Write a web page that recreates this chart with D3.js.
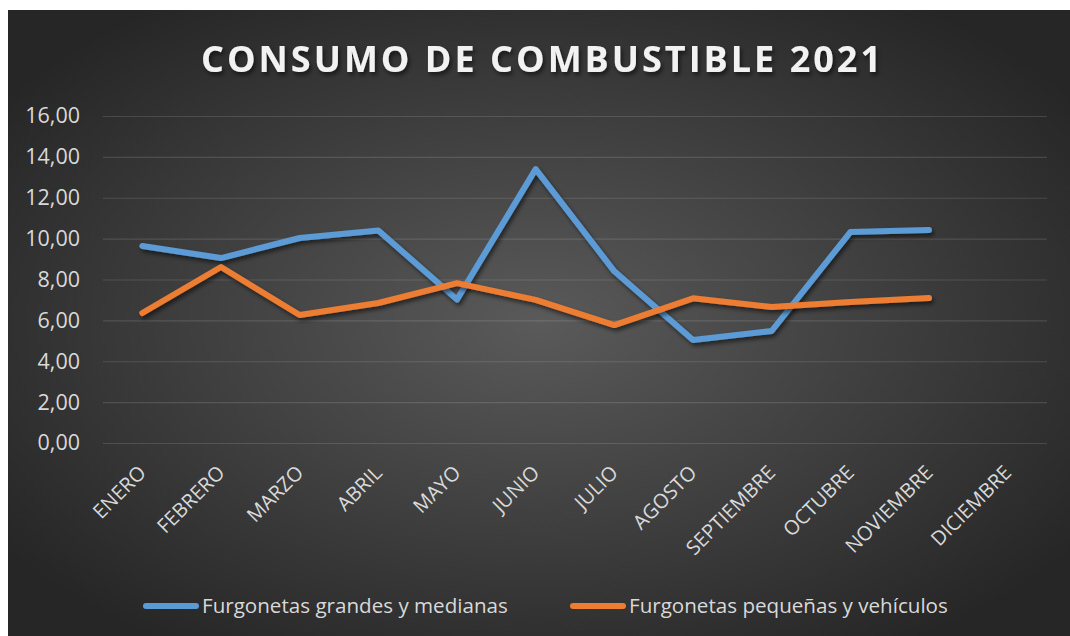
<!DOCTYPE html>
<html>
<head>
<meta charset="utf-8">
<script src="https://cdn.jsdelivr.net/npm/d3@7"></script>
<style>
	body { margin: 0; background: #fff; }
	svg { display: block; }
</style>
</head>
<body>
<div id="chart"></div>
<script>
// chart data
var months = ['ENERO', 'FEBRERO', 'MARZO', 'ABRIL', 'MAYO', 'JUNIO', 'JULIO',
	'AGOSTO', 'SEPTIEMBRE', 'OCTUBRE', 'NOVIEMBRE', 'DICIEMBRE'];

var grandes = [9.64, 9.05, 10.03, 10.40, 7.02, 13.40, 8.40, 5.04, 5.48, 10.32, 10.42, null];
var pequenas = [6.36, 8.61, 6.26, 6.85, 7.82, 7.00, 5.77, 7.08, 6.65, 6.90, 7.09, null];

var yTicks = [0, 2, 4, 6, 8, 10, 12, 14, 16];

var seriesNames = ['Furgonetas grandes y medianas', 'Furgonetas pequeñas y vehículos'];
var seriesColors = ['#5b9bd5', '#ed7d31'];

var W = 1070, H = 636;
var font = "'Open Sans', sans-serif";

var svg = d3.select('#chart').append('svg')
	.attr('width', W)
	.attr('height', H);

var defs = svg.append('defs');

var grad = defs.append('radialGradient')
	.attr('id', 'bg')
	.attr('cx', '50%').attr('cy', '50%').attr('r', '62%');
grad.append('stop').attr('offset', '0%').attr('stop-color', '#5a5a5a');
grad.append('stop').attr('offset', '100%').attr('stop-color', '#262626');

var shadow = defs.append('filter')
	.attr('id', 'shadow')
	.attr('x', '-10%').attr('y', '-10%').attr('width', '120%').attr('height', '130%');
shadow.append('feDropShadow')
	.attr('dx', 2).attr('dy', 3).attr('stdDeviation', 2)
	.attr('flood-color', '#000').attr('flood-opacity', 0.55);

// background
svg.append('rect')
	.attr('x', 8).attr('y', 10)
	.attr('width', W - 8).attr('height', H - 10)
	.attr('fill', 'url(#bg)');

// title, letter spacing stretched to the reference width
var title = svg.append('text')
	.attr('x', 541).attr('y', 72)
	.attr('text-anchor', 'middle')
	.attr('font-family', font)
	.attr('font-weight', 'bold')
	.attr('font-size', 36)
	.attr('fill', '#f2f2f2')
	.attr('filter', 'url(#shadow)')
	.text('CONSUMO DE COMBUSTIBLE 2021');
var titleText = title.text();
var natural = title.node().getComputedTextLength();
var spacing = Math.max(0, (680 - natural) / (titleText.length - 1));
title.attr('letter-spacing', spacing)
	.attr('x', 541 + spacing / 2);

var margin = {left: 103, right: 1047, top: 116, bottom: 443};

var x = d3.scaleBand()
	.domain(months)
	.range([margin.left, margin.right]);

var y = d3.scaleLinear()
	.domain([0, 16])
	.range([margin.bottom, margin.top]);

// gridlines
svg.append('g')
	.selectAll('line')
	.data(yTicks).enter()
	.append('line')
	.attr('x1', margin.left).attr('x2', margin.right)
	.attr('y1', function(d) { return y(d) + 0.5; })
	.attr('y2', function(d) { return y(d) + 0.5; })
	.attr('stroke', 'rgba(255,255,255,0.13)')
	.attr('stroke-width', 1.2);

// y axis labels
var yAxis = d3.axisLeft(y)
	.tickValues(yTicks)
	.tickSize(0)
	.tickPadding(0)
	.tickFormat(function(d) { return d3.format('.2f')(d).replace('.', ','); });

var gy = svg.append('g')
	.attr('transform', 'translate(80,0)')
	.call(yAxis);
gy.select('.domain').remove();
gy.selectAll('text')
	.attr('font-family', font)
	.attr('font-size', 21.5)
	.attr('fill', '#d9d9d9');

// x axis labels (rotated)
svg.append('g')
	.selectAll('text')
	.data(months).enter()
	.append('text')
	.attr('transform', function(d) {
		return 'translate(' + (x(d) + x.bandwidth() / 2 + 5) + ',474) rotate(-45)';
	})
	.attr('text-anchor', 'end')
	.attr('font-family', font)
	.attr('font-size', 20)
	.attr('fill', '#d9d9d9')
	.text(function(d) { return d; });

// lines
var line = d3.line()
	.defined(function(d) { return d != null; })
	.x(function(d, i) { return x(months[i]) + x.bandwidth() / 2; })
	.y(function(d) { return y(d); });

[grandes, pequenas].forEach(function(values, i) {
	svg.append('path')
		.datum(values)
		.attr('d', line)
		.attr('fill', 'none')
		.attr('stroke', seriesColors[i])
		.attr('stroke-width', 6)
		.attr('stroke-linejoin', 'round')
		.attr('stroke-linecap', 'round')
		.attr('filter', 'url(#shadow)');
});

// legend
var legendX = [146, 573];
var legend = svg.append('g')
	.selectAll('g')
	.data(seriesNames).enter()
	.append('g')
	.attr('transform', function(d, i) { return 'translate(' + legendX[i] + ',606)'; });

legend.append('line')
	.attr('x1', 0).attr('x2', 50)
	.attr('y1', 0).attr('y2', 0)
	.attr('stroke', function(d, i) { return seriesColors[i]; })
	.attr('stroke-width', 6)
	.attr('stroke-linecap', 'round');

legend.append('text')
	.attr('x', 56).attr('y', 7)
	.attr('font-family', font)
	.attr('font-size', 20.6)
	.attr('fill', '#d9d9d9')
	.text(function(d) { return d; });
</script>
</body>
</html>
